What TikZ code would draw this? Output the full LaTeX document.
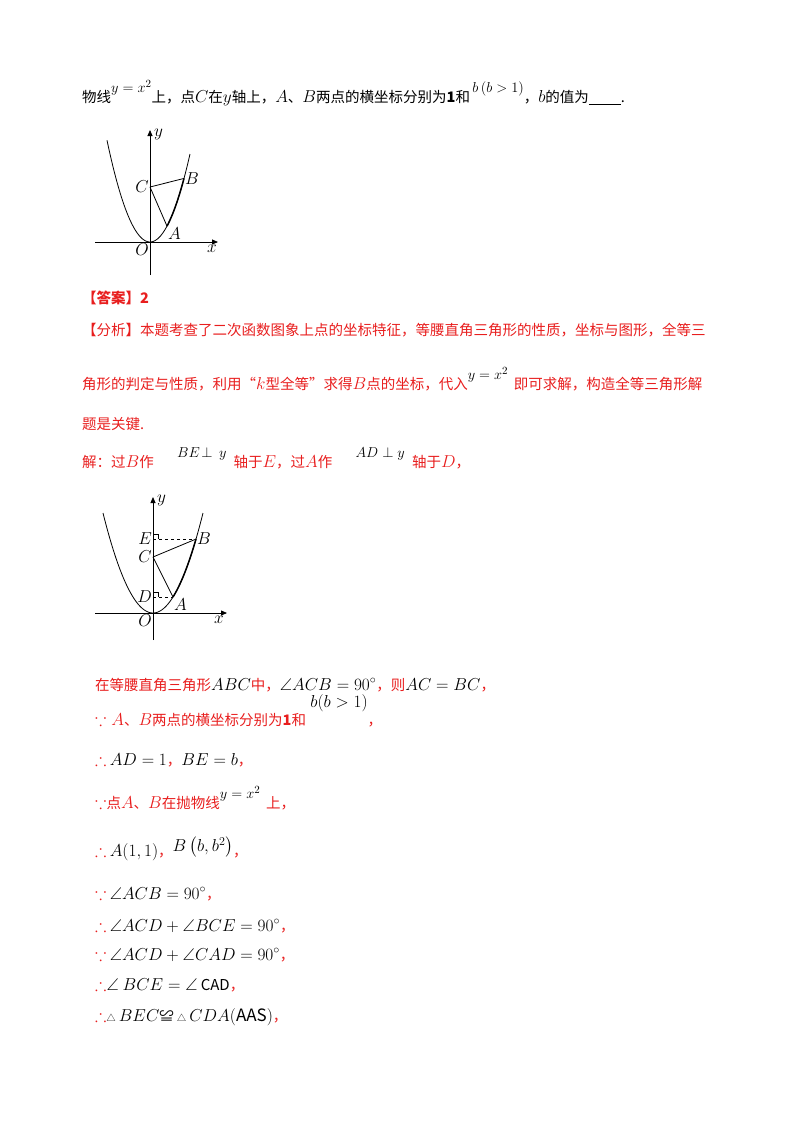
\documentclass[tikz,border=0pt]{standalone}
\usepackage{amsmath,amssymb}
\usepackage{fontspec}
\setmainfont{Noto Sans CJK SC}
\usetikzlibrary{arrows.meta,calc}
\definecolor{ansred}{RGB}{232,30,30}
\tikzset{
  line/.style={anchor=base west,inner sep=0pt,font=\fontsize{14.5}{16}\selectfont},
  redline/.style={line,text=ansred},
  lab/.style={font=\fontsize{16}{16}\selectfont,inner sep=1pt},
  axis/.style={-{Triangle[length=6pt,width=5pt]},line width=0.8pt},
  curve/.style={line width=0.8pt}
}
\newcommand{\M}[1]{{\fontsize{17}{17}\selectfont$#1$}}
\newcommand{\K}[1]{\textcolor{black}{\M{#1}}}
\newcommand{\up}[1]{\raisebox{1.2ex}{\textcolor{black}{\fontsize{15}{15}\selectfont$#1$}}}
\begin{document}
\begin{tikzpicture}[x=1pt,y=-1pt]
\useasboundingbox (0,0) rectangle (800,1132);
% line 1
\node[line] (t1) at (82,102) {物线\up{y=x^2}上，点\M{C}在\M{y}轴上，\M{A}、\M{B}两点的横坐标分别为\textbf{1}和\,\up{b\left(b>1\right)}，\M{b}的值为\underline{\hspace{2.2em}}.};
% graph 1
\begin{scope}[shift={(150,242)}]
\coordinate (O1) at (0,0);
\draw[axis] (-55,0) -- (68,0) coordinate (X1);
\draw[axis] (0,33) -- (0,-112) coordinate (Y1);
\draw[curve] plot[domain=-43:40,samples=60,smooth] (\x,{-0.055*\x*\x});
\coordinate (A1) at (17,{-0.055*17*17});
\coordinate (B1) at (34,{-0.055*34*34});
\coordinate (C1) at (0,-55);
\draw[curve] (C1) -- (A1) (C1) -- (B1);
\draw[line width=1.5pt] plot[domain=17:34,samples=20,smooth] (\x,{-0.055*\x*\x});
\node[lab,anchor=north east] at (O1) {$O$};
\node[lab,anchor=north] at (62,2) {$x$};
\node[lab,anchor=west] at (3,-108) {$y$};
\node[lab,anchor=east] at (C1) {$C$};
\node[lab,anchor=north west] at (A1) {$A$};
\node[lab,anchor=west] at (B1) {$B$};
\end{scope}
% answer/analysis
\node[redline] (t2) at (82,303) {\textbf{【答案】2}};
\node[redline] (t3) at (82,335) {【分析】本题考查了二次函数图象上点的坐标特征，等腰直角三角形的性质，坐标与图形，全等三};
\node[redline] (t4) at (82,389) {角形的判定与性质，利用“\M{k}型全等”求得\M{B}点的坐标，代入\up{y=x^2}\hspace{0.4em}即可求解，构造全等三角形解};
\node[redline] (t5) at (82,429) {题是关键.};
\node[redline] (t6) at (82,467) {解：过\M{B}作\hspace{1.6em}\up{BE\!\perp\, y}\hspace{0.5em}轴于\M{E}，过\M{A}作\hspace{1.6em}\up{AD\perp y}\hspace{0.5em}轴于\M{D}，};
% graph 2
\begin{scope}[shift={(153,613)}]
\coordinate (O2) at (0,0);
\draw[axis] (-58,0) -- (74,0) coordinate (X2);
\draw[axis] (0,27) -- (0,-116) coordinate (Y2);
\draw[curve] plot[domain=-50:50,samples=60,smooth] (\x,{-0.04*\x*\x});
\coordinate (A2) at (20,{-0.04*20*20});
\coordinate (B2) at (43,{-0.04*43*43});
\coordinate (C2) at (0,-56);
\coordinate (E2) at (0,{-0.04*43*43});
\coordinate (D2) at (0,{-0.04*20*20});
\draw[curve] (C2) -- (A2) (C2) -- (B2);
\draw[line width=1.5pt] plot[domain=20:43,samples=20,smooth] (\x,{-0.04*\x*\x});
\draw[dashed,curve] (E2) -- (B2) (D2) -- (A2);
\draw[curve] ($(E2)+(0,-5)$) -| ($(E2)+(5,0)$);
\draw[curve] ($(D2)+(0,-5)$) -| ($(D2)+(5,0)$);
\node[lab,anchor=north east] at (O2) {$O$};
\node[lab,anchor=north] at (66,2) {$x$};
\node[lab,anchor=west] at (3,-113) {$y$};
\node[lab,anchor=east] at (C2) {$C$};
\node[lab,anchor=east] at (E2) {$E$};
\node[lab,anchor=east] at (D2) {$D$};
\node[lab,anchor=north west] at (A2) {$A$};
\node[lab,anchor=west] at (B2) {$B$};
\end{scope}
% solution lines
\node[redline] (s1) at (95,690) {在等腰直角三角形\K{ABC}中，\K{\angle ACB=90^\circ}，则\K{AC=BC}，};
\node[redline] (s2) at (95,725) {\M{\because A}、\M{B}两点的横坐标分别为\textbf{1}和\hspace{0.3em}\textcolor{black}{\raisebox{2.2ex}{\M{b(b>1)}}}，};
\node[redline] (s3) at (95,765) {\M{\therefore} \K{AD=1}，\K{BE=b}，};
\node[redline] (s4) at (95,808) {\M{\because}点\M{A}、\M{B}在抛物线\up{y=x^2}\hspace{0.4em}上，};
\node[redline] (s5) at (95,856) {\M{\therefore} \K{A(1,1)}，\textcolor{black}{\raisebox{0.6ex}{\M{B\left(b,b^2\right)}}}，};
\node[redline] (s6) at (95,899) {\M{\because} \K{\angle ACB=90^\circ}，};
\node[redline] (s7) at (95,931) {\M{\therefore} \K{\angle ACD+\angle BCE=90^\circ}，};
\node[redline] (s8) at (95,960) {\M{\because} \K{\angle ACD+\angle CAD=90^\circ}，};
\node[redline] (s9) at (95,990) {\M{\therefore}\K{\angle\ BCE=\angle}\ \textcolor{black}{\fontsize{15}{15}\selectfont CAD}，};
\node[redline] (s10) at (95,1021) {\M{\therefore}\textcolor{black}{{\small△}\ \M{BEC}≌\ {\small△}\ \M{CDA\mathrm{(AAS)}}}，};
\end{tikzpicture}
\end{document}
